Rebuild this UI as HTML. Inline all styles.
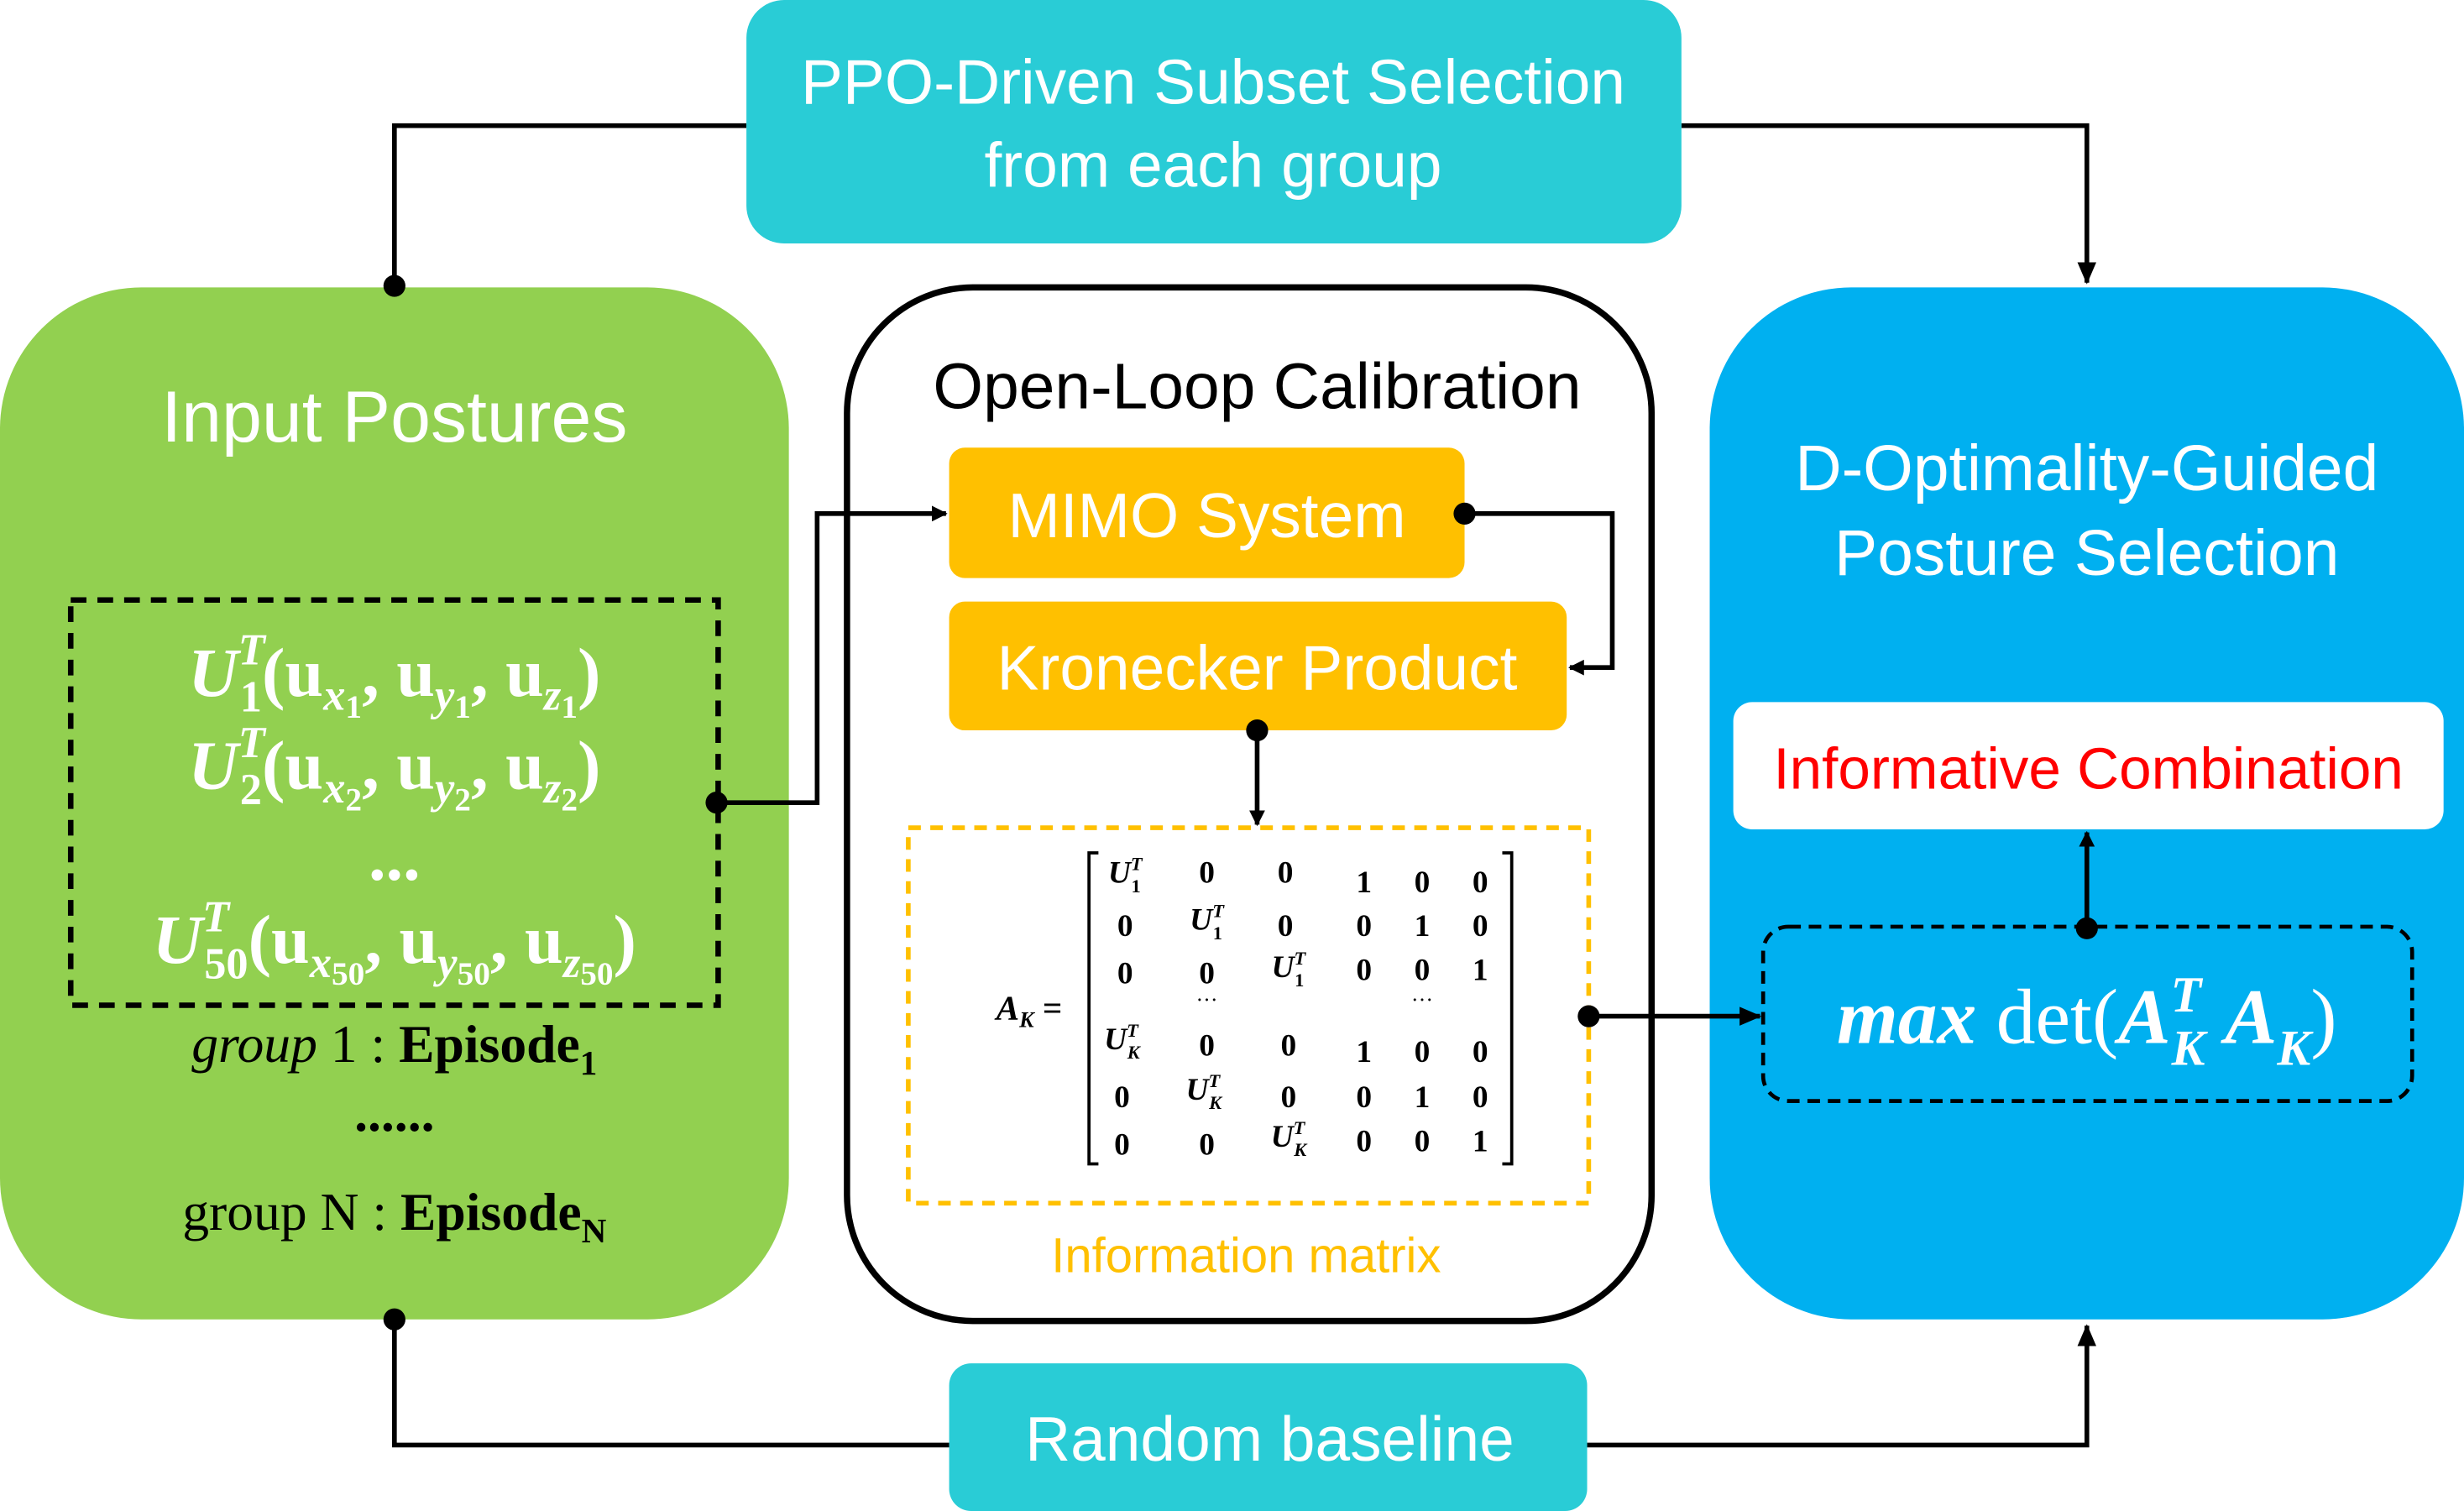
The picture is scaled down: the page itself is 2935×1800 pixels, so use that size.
<!DOCTYPE html>
<html><head><meta charset="utf-8"><style>
html,body{margin:0;padding:0;background:#fff}
svg{display:block}
.s{font-family:"Liberation Sans",sans-serif}
.r{font-family:"Liberation Serif",serif}
</style></head><body>
<svg width="2935" height="1800" viewBox="0 0 1568 962" preserveAspectRatio="none" xmlns="http://www.w3.org/2000/svg">
<defs>
<marker id="a" markerWidth="10" markerHeight="10" refX="9" refY="5" orient="auto" markerUnits="userSpaceOnUse"><path d="M0,0 L10,5 L0,10 z" fill="#000"/></marker>
<marker id="a2" markerWidth="14" markerHeight="12" refX="13" refY="6" orient="auto" markerUnits="userSpaceOnUse"><path d="M0,0 L14,6 L0,12 z" fill="#000"/></marker>
</defs>
<g stroke="#000" stroke-width="3" fill="none">
<polyline points="475,80 251,80 251,182"/>
<polyline points="1070,80 1328,80 1328,180" marker-end="url(#a2)"/>
<polyline points="604,920 251,920 251,842"/>
<polyline points="1010,920 1328,920 1328,844" marker-end="url(#a2)"/>
</g>
<rect x="475" y="0" width="595" height="155" rx="24" fill="#29CCD6"/>
<text class="s" x="772" y="66" font-size="40" fill="#fff" text-anchor="middle">PPO-Driven Subset Selection</text>
<text class="s" x="772" y="119" font-size="40" fill="#fff" text-anchor="middle">from each group</text>

<rect x="0" y="183" width="502" height="657" rx="90" fill="#92D050"/>
<text class="s" x="251" y="281" font-size="46" fill="#fff" text-anchor="middle">Input Postures</text>
<rect x="45" y="382" width="412" height="258" fill="none" stroke="#000" stroke-width="3.5" stroke-dasharray="10,7"/>
<g class="r" fill="#fff" font-weight="bold" text-anchor="middle" font-size="44">
<text x="251" y="443"><tspan font-style="italic">U</tspan><tspan font-size="28" font-style="italic" dy="-20">T</tspan><tspan font-size="28" dx="-16" dy="30">1</tspan><tspan dy="-10">(u</tspan><tspan font-size="28" dy="9" font-style="italic">x</tspan><tspan font-size="21" dy="5">1</tspan><tspan dy="-14">, u</tspan><tspan font-size="28" dy="9" font-style="italic">y</tspan><tspan font-size="21" dy="5">1</tspan><tspan dy="-14">, u</tspan><tspan font-size="28" dy="9" font-style="italic">z</tspan><tspan font-size="21" dy="5">1</tspan><tspan dy="-14">)</tspan></text>
<text x="251" y="502"><tspan font-style="italic">U</tspan><tspan font-size="28" font-style="italic" dy="-20">T</tspan><tspan font-size="28" dx="-16" dy="30">2</tspan><tspan dy="-10">(u</tspan><tspan font-size="28" dy="9" font-style="italic">x</tspan><tspan font-size="21" dy="5">2</tspan><tspan dy="-14">, u</tspan><tspan font-size="28" dy="9" font-style="italic">y</tspan><tspan font-size="21" dy="5">2</tspan><tspan dy="-14">, u</tspan><tspan font-size="28" dy="9" font-style="italic">z</tspan><tspan font-size="21" dy="5">2</tspan><tspan dy="-14">)</tspan></text>
<text x="251" y="560">...</text>
<text x="251" y="613"><tspan font-style="italic">U</tspan><tspan font-size="28" font-style="italic" dy="-20">T</tspan><tspan font-size="28" dx="-16" dy="30">50</tspan><tspan dy="-10">(u</tspan><tspan font-size="28" dy="9" font-style="italic">x</tspan><tspan font-size="21" dy="5">50</tspan><tspan dy="-14">, u</tspan><tspan font-size="28" dy="9" font-style="italic">y</tspan><tspan font-size="21" dy="5">50</tspan><tspan dy="-14">, u</tspan><tspan font-size="28" dy="9" font-style="italic">z</tspan><tspan font-size="21" dy="5">50</tspan><tspan dy="-14">)</tspan></text>
</g>
<g class="r" fill="#000" font-size="34" text-anchor="middle">
<text x="251" y="676"><tspan font-style="italic">group</tspan> 1 : <tspan font-weight="bold">Episode</tspan><tspan font-weight="bold" font-size="22" dy="8">1</tspan></text>
<text x="251" y="720" font-weight="bold">......</text>
<text x="251" y="783">group N : <tspan font-weight="bold">Episode</tspan><tspan font-weight="bold" font-size="22" dy="8">N</tspan></text>
</g>

<rect x="539" y="183" width="512" height="658" rx="80" fill="#fff" stroke="#000" stroke-width="4"/>
<text class="s" x="800" y="260" font-size="41" fill="#000" text-anchor="middle">Open-Loop Calibration</text>
<rect x="604" y="285" width="328" height="83" rx="10" fill="#FFC000"/>
<text class="s" x="768" y="342" font-size="40" fill="#fff" text-anchor="middle">MIMO System</text>
<rect x="604" y="383" width="393" height="82" rx="10" fill="#FFC000"/>
<text class="s" x="800" y="439" font-size="40" fill="#fff" text-anchor="middle">Kronecker Product</text>
<rect x="578" y="527" width="433" height="239" fill="none" stroke="#FFC000" stroke-width="3" stroke-dasharray="8,6"/>
<text class="s" x="793" y="810" font-size="31" fill="#FFC000" text-anchor="middle">Information matrix</text>
<g class="r" font-size="20" font-weight="bold" fill="#000" text-anchor="middle">
<text x="655" y="649" font-style="italic" font-size="22">A<tspan font-size="14" dy="5">K</tspan><tspan font-style="normal" dy="-5"> =</tspan></text>
<path d="M699,543 h-6 v198 h6 M956,543 h6 v198 h-6" fill="none" stroke="#000" stroke-width="2"/>
</g>
<g class="r" font-size="20" font-weight="bold" fill="#000" text-anchor="middle">
<text x="716" y="562" font-style="italic">U<tspan font-size="12" dy="-8">T</tspan><tspan font-size="12" dx="-7" dy="14" font-style="normal">1</tspan></text><text x="768" y="562">0</text><text x="818" y="562">0</text><text x="868" y="568">1</text><text x="905" y="568">0</text><text x="942" y="568">0</text>
<text x="716" y="596">0</text><text x="768" y="592" font-style="italic">U<tspan font-size="12" dy="-8">T</tspan><tspan font-size="12" dx="-7" dy="14" font-style="normal">1</tspan></text><text x="818" y="596">0</text><text x="868" y="596">0</text><text x="905" y="596">1</text><text x="942" y="596">0</text>
<text x="716" y="626">0</text><text x="768" y="626">0</text><text x="820" y="622" font-style="italic">U<tspan font-size="12" dy="-8">T</tspan><tspan font-size="12" dx="-7" dy="14" font-style="normal">1</tspan></text><text x="868" y="624">0</text><text x="905" y="624">0</text><text x="942" y="624">1</text>
<text x="768" y="641" font-weight="normal" font-size="14">···</text><text x="905" y="641" font-weight="normal" font-size="14">···</text>
<text x="714" y="668" font-style="italic">U<tspan font-size="12" dy="-8">T</tspan><tspan font-size="12" dx="-7" dy="14">K</tspan></text><text x="768" y="672">0</text><text x="820" y="672">0</text><text x="868" y="676">1</text><text x="905" y="676">0</text><text x="942" y="676">0</text>
<text x="714" y="705">0</text><text x="766" y="700" font-style="italic">U<tspan font-size="12" dy="-8">T</tspan><tspan font-size="12" dx="-7" dy="14">K</tspan></text><text x="820" y="705">0</text><text x="868" y="705">0</text><text x="905" y="705">1</text><text x="942" y="705">0</text>
<text x="714" y="735">0</text><text x="768" y="735">0</text><text x="820" y="730" font-style="italic">U<tspan font-size="12" dy="-8">T</tspan><tspan font-size="12" dx="-7" dy="14">K</tspan></text><text x="868" y="733">0</text><text x="905" y="733">0</text><text x="942" y="733">1</text>
</g>

<rect x="1088" y="183" width="480" height="657" rx="90" fill="#00B0F0"/>
<text class="s" x="1328" y="312" font-size="41" fill="#fff" text-anchor="middle">D-Optimality-Guided</text>
<text class="s" x="1328" y="366" font-size="41" fill="#fff" text-anchor="middle">Posture Selection</text>
<rect x="1103" y="447" width="452" height="81" rx="12" fill="#fff"/>
<text class="s" x="1329" y="502" font-size="37" fill="#FF0000" text-anchor="middle">Informative Combination</text>
<rect x="1122" y="590" width="413" height="111" rx="16" fill="none" stroke="#000" stroke-width="2.5" stroke-dasharray="8,5"/>
<text class="r" x="1328" y="664" font-size="50" fill="#fff" text-anchor="middle"><tspan font-style="italic" font-weight="bold">max</tspan> det(<tspan font-style="italic" font-weight="bold">A</tspan><tspan font-size="32" font-style="italic" font-weight="bold" dy="-20">T</tspan><tspan font-size="32" font-style="italic" font-weight="bold" dx="-19" dy="34">K</tspan><tspan dy="-14"> </tspan><tspan font-style="italic" font-weight="bold">A</tspan><tspan font-size="32" font-style="italic" font-weight="bold" dy="14">K</tspan><tspan dy="-14">)</tspan></text>

<rect x="604" y="868" width="406" height="94" rx="14" fill="#29CCD6"/>
<text class="s" x="808" y="930" font-size="40" fill="#fff" text-anchor="middle">Random baseline</text>

<g stroke="#000" stroke-width="3" fill="none">
<polyline points="456,511 520,511 520,327 602,327" marker-end="url(#a)"/>
<polyline points="932,327 1026,327 1026,425 999,425" marker-end="url(#a)"/>
<polyline points="800,465 800,525" marker-end="url(#a)"/>
<polyline points="1011,647 1120,647" marker-end="url(#a2)"/>
<polyline points="1328,590 1328,530" marker-end="url(#a)"/>
</g>
<g fill="#000">
<circle cx="251" cy="182" r="7"/><circle cx="251" cy="840" r="7"/>
<circle cx="456" cy="511" r="7"/><circle cx="932" cy="327" r="7"/>
<circle cx="800" cy="465" r="7"/><circle cx="1011" cy="647" r="7"/>
<circle cx="1328" cy="591" r="7"/>
</g>
</svg>
</body></html>
